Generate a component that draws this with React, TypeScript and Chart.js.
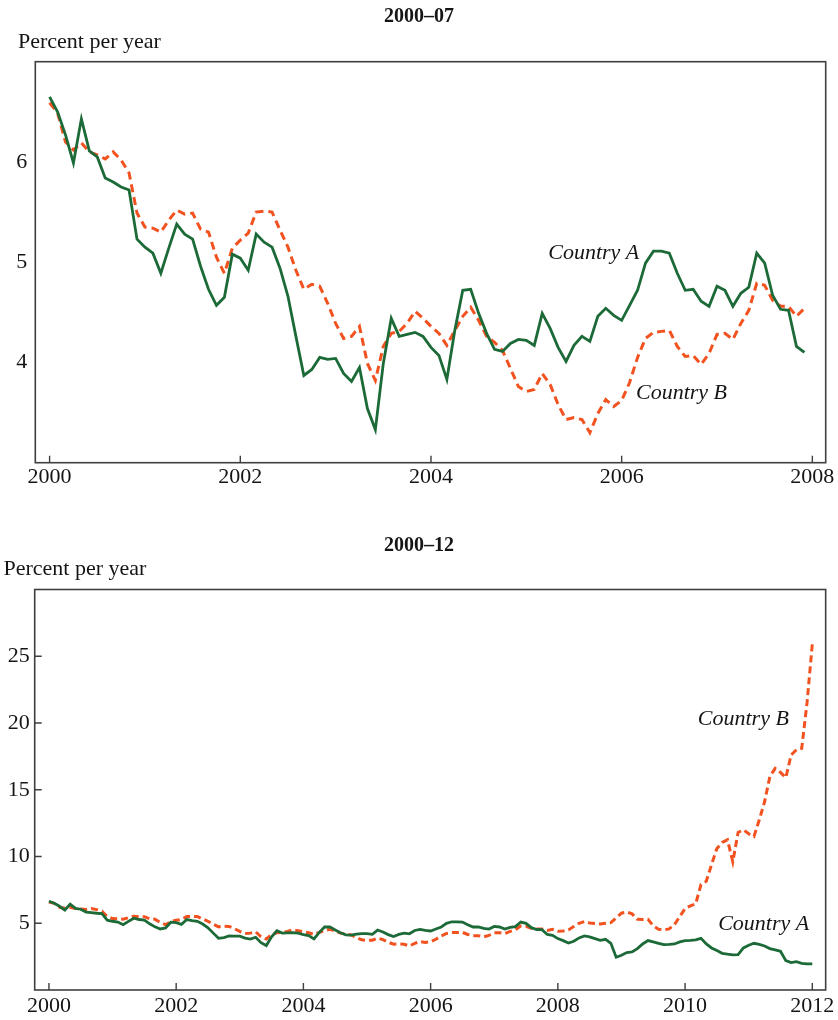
import React, { useEffect, useRef } from "react";
import { Chart, registerables } from "chart.js";

Chart.register(...registerables);

// Monthly values, percent per year (Jan of each year onward)
const countryA_2000_03 = [
  6.65, 6.5, 6.27, 5.99, 6.43, 6.11, 6.05, 5.84, 5.8, 5.75, 5.72, 5.23,
  5.15, 5.09, 4.89, 5.14, 5.38, 5.28, 5.23, 4.96, 4.73, 4.57, 4.65, 5.08,
  5.04, 4.92, 5.28, 5.2, 5.15, 4.94, 4.66, 4.26, 3.87, 3.93, 4.05, 4.03,
  4.04, 3.89, 3.81, 3.95, 3.54, 3.33, 3.99, 4.44, 4.26, 4.28, 4.3, 4.26,
];
const countryA_2004_07 = [
  4.15, 4.07, 3.83, 4.32, 4.72, 4.73, 4.49, 4.29, 4.13, 4.11, 4.19, 4.23,
  4.22, 4.17, 4.49, 4.34, 4.15, 4.01, 4.17, 4.26, 4.21, 4.46, 4.54, 4.47,
  4.42, 4.57, 4.72, 4.99, 5.11, 5.11, 5.09, 4.89, 4.72, 4.73, 4.61, 4.56,
  4.76, 4.72, 4.56, 4.69, 4.75, 5.09, 4.99, 4.67, 4.53, 4.52, 4.16, 4.1,
];
const countryA_2008_12 = [
  3.85, 3.7, 3.52, 3.65, 3.9, 4.05, 3.98, 3.85, 3.72, 3.8, 3.5, 2.45,
  2.6, 2.8, 2.85, 3.1, 3.45, 3.7, 3.6, 3.5, 3.4, 3.42, 3.45, 3.6,
  3.7, 3.72, 3.75, 3.87, 3.45, 3.15, 2.95, 2.75, 2.68, 2.63, 2.65, 3.15,
  3.35, 3.5, 3.42, 3.3, 3.1, 3.0, 2.9, 2.2, 2.05, 2.12, 2.0, 1.95,
  1.95,
];

const countryB_2000_03 = [
  6.59, 6.49, 6.2, 6.12, 6.19, 6.1, 6.07, 6.03, 6.1, 6.02, 5.89, 5.49,
  5.35, 5.34, 5.3, 5.42, 5.52, 5.48, 5.49, 5.33, 5.3, 5.05, 4.89, 5.14,
  5.22, 5.29, 5.5, 5.51, 5.5, 5.32, 5.15, 4.92, 4.73, 4.78, 4.76, 4.59,
  4.39, 4.24, 4.26, 4.36, 3.99, 3.82, 4.16, 4.29, 4.31, 4.39, 4.51, 4.44,
];
const countryB_2004_07 = [
  4.36, 4.29, 4.17, 4.32, 4.46, 4.55, 4.42, 4.26, 4.2, 4.12, 3.94, 3.76,
  3.71, 3.73, 3.89, 3.78, 3.58, 3.43, 3.45, 3.43, 3.3, 3.49, 3.63, 3.56,
  3.62, 3.8, 4.05, 4.24, 4.3, 4.31, 4.32, 4.16, 4.06, 4.07, 3.98, 4.09,
  4.28, 4.29, 4.23, 4.39, 4.52, 4.79, 4.77, 4.62, 4.56, 4.56, 4.46, 4.54,
];
const countryB_2008_12 = [
  4.4, 4.42, 4.5, 4.75, 5.0, 5.13, 5.02, 4.98, 4.95, 5.0, 5.05, 5.4,
  5.75, 5.85, 5.7, 5.3, 5.28, 5.3, 4.8, 4.55, 4.5, 4.58, 4.9, 5.5,
  6.1, 6.3, 6.45, 7.9, 8.15, 9.4, 10.6, 11.05, 11.25, 9.6, 11.8, 12.0,
  11.7, 11.5, 12.75, 14.1, 16.0, 16.6, 16.3, 15.9, 17.6, 18.0, 18.1, 21.5,
  25.9,
];

const startYear = 2000;
const xTicksTop = [2000, 2002, 2004, 2006, 2008];
const xTicksBottom = [2000, 2002, 2004, 2006, 2008, 2010, 2012];
const yTicksTop = [4, 5, 6];
const yTicksBottom = [5, 10, 15, 20, 25];

const seriesNames = ["Country A", "Country B"];
const notesTop = [
  { text: "Country A", x: 2005.23, y: 5.03 },
  { text: "Country B", x: 2006.15, y: 3.635 },
];
const notesBottom = [
  { text: "Country B", x: 2010.2, y: 19.83 },
  { text: "Country A", x: 2010.52, y: 4.5 },
];

const GREEN = "#1c6a37";
const ORANGE = "#f2521f";
const TEXT = "#151515";
const FRAME = "#3f3f3f";
const FONT = '"Liberation Serif", "Times New Roman", serif';

const toPoints = (vals: number[]) =>
  vals.map((v, i) => ({ x: startYear + i / 12, y: v }));

type Note = { text: string; x: number; y: number };

type PanelProps = {
  width: number;
  height: number;
  title: string;
  titleY: number;
  yLabel: string;
  yLabelX: number;
  yLabelY: number;
  a: number[];
  b: number[];
  xMin: number;
  xMax: number;
  yMin: number;
  yMax: number;
  xTicks: number[];
  yTicks: number[];
  yTickMarks: boolean;
  notes: Note[];
  padding: { left: number; right: number; top: number; bottom: number };
  yAxisWidth: number;
  xAxisHeight: number;
  yLabelPad: number;
  xLabelPad: number;
  dash: number[];
};

function Panel(p: PanelProps) {
  const ref = useRef<HTMLCanvasElement | null>(null);

  useEffect(() => {
    if (!ref.current) return;
    const decor = {
      id: "decor",
      afterDraw(chart: any) {
        const { ctx, chartArea: area, scales } = chart;
        const xs = scales.x;
        const ys = scales.y;
        ctx.save();
        ctx.fillStyle = TEXT;
        ctx.font = `bold 20px ${FONT}`;
        ctx.textAlign = "center";
        ctx.textBaseline = "middle";
        ctx.fillText(p.title, p.width / 2, p.titleY);

        ctx.font = `22px ${FONT}`;
        ctx.textAlign = "left";
        ctx.textBaseline = "alphabetic";
        ctx.fillText(p.yLabel, p.yLabelX, p.yLabelY);

        ctx.strokeStyle = FRAME;
        ctx.lineWidth = 1.6;
        ctx.strokeRect(area.left, area.top, area.right - area.left, area.bottom - area.top);

        ctx.lineWidth = 1.4;
        ctx.beginPath();
        for (const t of p.xTicks) {
          const px = xs.getPixelForValue(t);
          ctx.moveTo(px, area.bottom);
          ctx.lineTo(px, area.bottom - 7);
        }
        if (p.yTickMarks) {
          for (const t of p.yTicks) {
            const py = ys.getPixelForValue(t);
            ctx.moveTo(area.left, py);
            ctx.lineTo(area.left + 7, py);
          }
        }
        ctx.stroke();

        ctx.fillStyle = TEXT;
        ctx.font = `italic 22px ${FONT}`;
        ctx.textAlign = "left";
        ctx.textBaseline = "alphabetic";
        for (const n of p.notes) {
          ctx.fillText(n.text, xs.getPixelForValue(n.x), ys.getPixelForValue(n.y));
        }
        ctx.restore();
      },
    };

    const tickFont = { family: FONT, size: 22 };
    const chart = new Chart(ref.current, {
      type: "line",
      data: {
        datasets: [
          {
            label: seriesNames[0],
            data: toPoints(p.a),
            borderColor: GREEN,
            borderWidth: 2.8,
            pointRadius: 0,
            tension: 0,
            fill: false,
          },
          {
            label: seriesNames[1],
            data: toPoints(p.b),
            borderColor: ORANGE,
            borderWidth: 3,
            borderDash: p.dash,
            pointRadius: 0,
            tension: 0,
            fill: false,
          },
        ],
      },
      options: {
        responsive: false,
        animation: false,
        events: [],
        layout: { padding: p.padding },
        plugins: {
          legend: { display: false },
          tooltip: { enabled: false },
          title: { display: false },
        },
        scales: {
          x: {
            type: "linear",
            min: p.xMin,
            max: p.xMax,
            grid: { display: false, drawTicks: false },
            border: { display: false },
            ticks: {
              font: tickFont,
              color: TEXT,
              padding: p.xLabelPad,
              maxRotation: 0,
              autoSkip: false,
              callback: (v: any) => String(v),
            },
            afterBuildTicks: (scale: any) => {
              scale.ticks = p.xTicks.map((v) => ({ value: v }));
            },
            afterFit: (scale: any) => {
              scale.height = p.xAxisHeight;
            },
          },
          y: {
            type: "linear",
            min: p.yMin,
            max: p.yMax,
            grid: { display: false, drawTicks: false },
            border: { display: false },
            ticks: {
              font: tickFont,
              color: TEXT,
              padding: p.yLabelPad,
              autoSkip: false,
              callback: (v: any) => String(v),
            },
            afterBuildTicks: (scale: any) => {
              scale.ticks = p.yTicks.map((v) => ({ value: v }));
            },
            afterFit: (scale: any) => {
              scale.width = p.yAxisWidth;
            },
          },
        },
      },
      plugins: [decor],
    } as any);
    return () => chart.destroy();
  }, []);

  return (
    <canvas
      ref={ref}
      width={p.width}
      height={p.height}
      style={{ display: "block", width: p.width, height: p.height }}
    />
  );
}

export default function App() {
  return (
    <div style={{ position: "absolute", left: 0, top: 0, width: 838, height: 1020, background: "#fff" }}>
      <Panel
        width={838}
        height={520}
        title="2000–07"
        titleY={17}
        yLabel="Percent per year"
        yLabelX={18}
        yLabelY={48}
        a={[...countryA_2000_03, ...countryA_2004_07]}
        b={[...countryB_2000_03, ...countryB_2004_07]}
        xMin={1999.85}
        xMax={2008.14}
        yMin={3}
        yMax={7}
        xTicks={xTicksTop}
        yTicks={yTicksTop}
        yTickMarks={false}
        notes={notesTop}
        padding={{ left: 0, right: 12.3, top: 61.7, bottom: 17.3 }}
        yAxisWidth={35.3}
        xAxisHeight={40}
        yLabelPad={8}
        xLabelPad={1}
        dash={[8, 5]}
      />
      <Panel
        width={838}
        height={500}
        title="2000–12"
        titleY={25.5}
        yLabel="Percent per year"
        yLabelX={3.5}
        yLabelY={55}
        a={[...countryA_2000_03, ...countryA_2004_07, ...countryA_2008_12]}
        b={[...countryB_2000_03, ...countryB_2004_07, ...countryB_2008_12]}
        xMin={1999.776}
        xMax={2012.21}
        yMin={0}
        yMax={30}
        xTicks={xTicksBottom}
        yTicks={yTicksBottom}
        yTickMarks={true}
        notes={notesBottom}
        padding={{ left: 0, right: 11.3, top: 69.5, bottom: 0 }}
        yAxisWidth={34.7}
        xAxisHeight={30}
        yLabelPad={5}
        xLabelPad={3.5}
        dash={[7, 4]}
      />
    </div>
  );
}
